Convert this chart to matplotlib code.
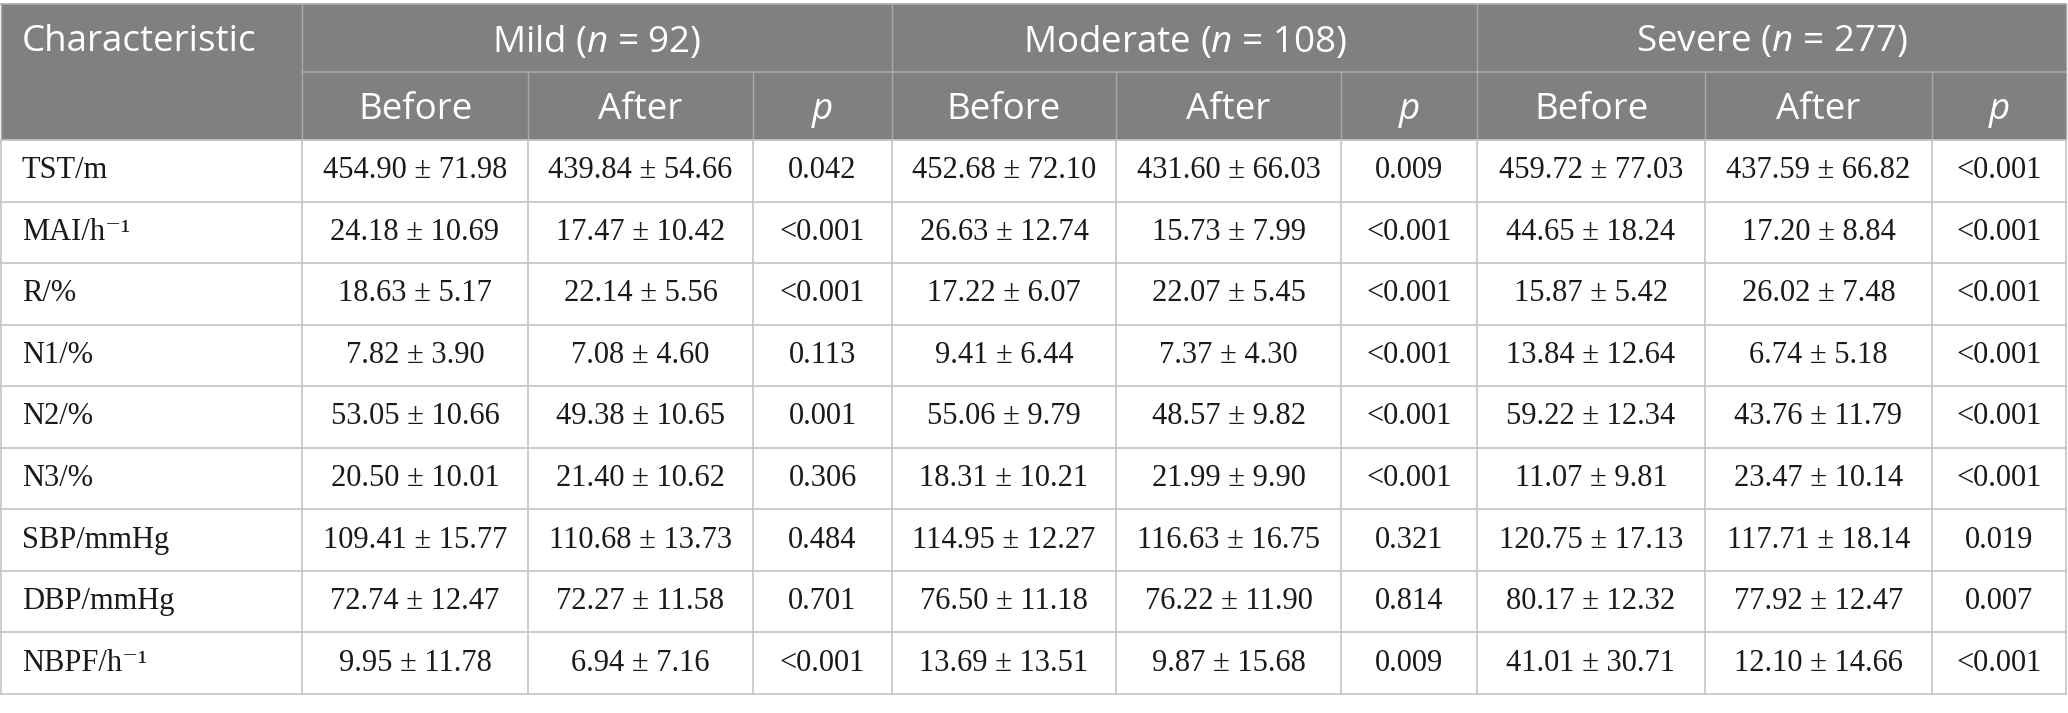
import matplotlib
matplotlib.use("Agg")
import matplotlib.pyplot as plt
from matplotlib.patches import Rectangle

# ---------------------------------------------------------------------------
# Datos de la tabla
# ---------------------------------------------------------------------------
grupos = ["Mild", "Moderate", "Severe"]
n_grupos = [92, 108, 277]
subcolumnas = ["Before", "After", "p"]

caracteristicas = ["TST/m", "MAI/h\u207b\u00b9", "R/%", "N1/%", "N2/%", "N3/%",
                   "SBP/mmHg", "DBP/mmHg", "NBPF/h\u207b\u00b9"]

mild_before = ["454.90 ± 71.98", "24.18 ± 10.69", "18.63 ± 5.17", "7.82 ± 3.90",
               "53.05 ± 10.66", "20.50 ± 10.01", "109.41 ± 15.77", "72.74 ± 12.47",
               "9.95 ± 11.78"]
mild_after = ["439.84 ± 54.66", "17.47 ± 10.42", "22.14 ± 5.56", "7.08 ± 4.60",
              "49.38 ± 10.65", "21.40 ± 10.62", "110.68 ± 13.73", "72.27 ± 11.58",
              "6.94 ± 7.16"]
mild_p = ["0.042", "<0.001", "<0.001", "0.113", "0.001", "0.306", "0.484", "0.701", "<0.001"]

mod_before = ["452.68 ± 72.10", "26.63 ± 12.74", "17.22 ± 6.07", "9.41 ± 6.44",
              "55.06 ± 9.79", "18.31 ± 10.21", "114.95 ± 12.27", "76.50 ± 11.18",
              "13.69 ± 13.51"]
mod_after = ["431.60 ± 66.03", "15.73 ± 7.99", "22.07 ± 5.45", "7.37 ± 4.30",
             "48.57 ± 9.82", "21.99 ± 9.90", "116.63 ± 16.75", "76.22 ± 11.90",
             "9.87 ± 15.68"]
mod_p = ["0.009", "<0.001", "<0.001", "<0.001", "<0.001", "<0.001", "0.321", "0.814", "0.009"]

sev_before = ["459.72 ± 77.03", "44.65 ± 18.24", "15.87 ± 5.42", "13.84 ± 12.64",
              "59.22 ± 12.34", "11.07 ± 9.81", "120.75 ± 17.13", "80.17 ± 12.32",
              "41.01 ± 30.71"]
sev_after = ["437.59 ± 66.82", "17.20 ± 8.84", "26.02 ± 7.48", "6.74 ± 5.18",
             "43.76 ± 11.79", "23.47 ± 10.14", "117.71 ± 18.14", "77.92 ± 12.47",
             "12.10 ± 14.66"]
sev_p = ["<0.001", "<0.001", "<0.001", "<0.001", "<0.001", "<0.001", "0.019", "0.007", "<0.001"]

columnas = [mild_before, mild_after, mild_p,
            mod_before, mod_after, mod_p,
            sev_before, sev_after, sev_p]

# ---------------------------------------------------------------------------
# Geometria (en pixeles de la figura)
# ---------------------------------------------------------------------------
ANCHO, ALTO = 2068, 713
bordes_x = [0.5, 302, 528, 753, 892, 1116, 1341, 1477, 1705, 1932, 2066]
y_top, y_mid, y_head = 4, 72, 140
y_bottom = 694
alto_fila = (y_bottom - y_head) / len(caracteristicas)

gris_header = "#808080"
linea_header = "#a9a9a9"
linea_datos = "#c4c4c4"

plt.rcParams["mathtext.fontset"] = "custom"
plt.rcParams["mathtext.rm"] = "Open Sans"
plt.rcParams["mathtext.it"] = "Open Sans:italic"

fuente_header = ["Open Sans", "DejaVu Sans"]
fuente_datos = ["Liberation Serif", "DejaVu Serif"]
tam_header = 26.5
tam_datos = 22

fig = plt.figure(figsize=(ANCHO / 100, ALTO / 100), dpi=100)
ax = fig.add_axes([0, 0, 1, 1])
ax.set_xlim(0, ANCHO)
ax.set_ylim(ALTO, 0)
ax.axis("off")

# Fondo del encabezado
ax.add_patch(Rectangle((bordes_x[0], y_top), bordes_x[-1] - bordes_x[0], y_head - y_top,
                       facecolor=gris_header, edgecolor="none", zorder=1))

# Lineas del encabezado
ax.plot([bordes_x[0], bordes_x[-1]], [y_top, y_top], color=linea_header, lw=1.2, zorder=2)
ax.plot([bordes_x[1], bordes_x[-1]], [y_mid, y_mid], color=linea_header, lw=1.2, zorder=2)
for k, xb in enumerate(bordes_x):
    if k in (0, 1, 4, 7, 10):
        ax.plot([xb, xb], [y_top, y_head], color=linea_header, lw=1.0, zorder=2)
    else:
        ax.plot([xb, xb], [y_mid, y_head], color=linea_header, lw=1.0, zorder=2)

# Lineas de la zona de datos
for i in range(len(caracteristicas) + 1):
    yy = y_head + i * alto_fila
    ax.plot([bordes_x[0], bordes_x[-1]], [yy, yy], color=linea_datos, lw=1.2, zorder=2)
for xb in bordes_x:
    ax.plot([xb, xb], [y_head, y_bottom], color=linea_datos, lw=1.2, zorder=2)

# Textos del encabezado (un poco por debajo del centro, como en el original)
dy_header = 4
ax.text(22, (y_top + y_mid) / 2 + dy_header, "Characteristic", color="white",
        fontsize=tam_header, family=fuente_header, ha="left", va="center", zorder=3)
for g, (nombre, n) in enumerate(zip(grupos, n_grupos)):
    x0, x1 = bordes_x[1 + 3 * g], bordes_x[4 + 3 * g]
    ax.text((x0 + x1) / 2, (y_top + y_mid) / 2 + dy_header, f"{nombre} ($n$ = {n})",
            color="white", fontsize=tam_header, family=fuente_header,
            ha="center", va="center", zorder=3)
    for s, sub in enumerate(subcolumnas):
        xa, xb = bordes_x[1 + 3 * g + s], bordes_x[2 + 3 * g + s]
        ax.text((xa + xb) / 2, (y_mid + y_head) / 2 + dy_header, sub, color="white",
                fontsize=tam_header, family=fuente_header, ha="center", va="center",
                style="italic" if sub == "p" else "normal", zorder=3)

# Celdas de datos
for i, nombre in enumerate(caracteristicas):
    yc = y_head + (i + 0.5) * alto_fila
    ax.text(22, yc, nombre, color="#1a1a1a", fontsize=tam_datos, family=fuente_datos,
            ha="left", va="center", zorder=3)
    for j, col in enumerate(columnas):
        xc = (bordes_x[j + 1] + bordes_x[j + 2]) / 2
        ax.text(xc, yc, col[i], color="#1a1a1a", fontsize=tam_datos, family=fuente_datos,
                ha="center", va="center", zorder=3)

fig.savefig("out.png", dpi=100, facecolor="white")
